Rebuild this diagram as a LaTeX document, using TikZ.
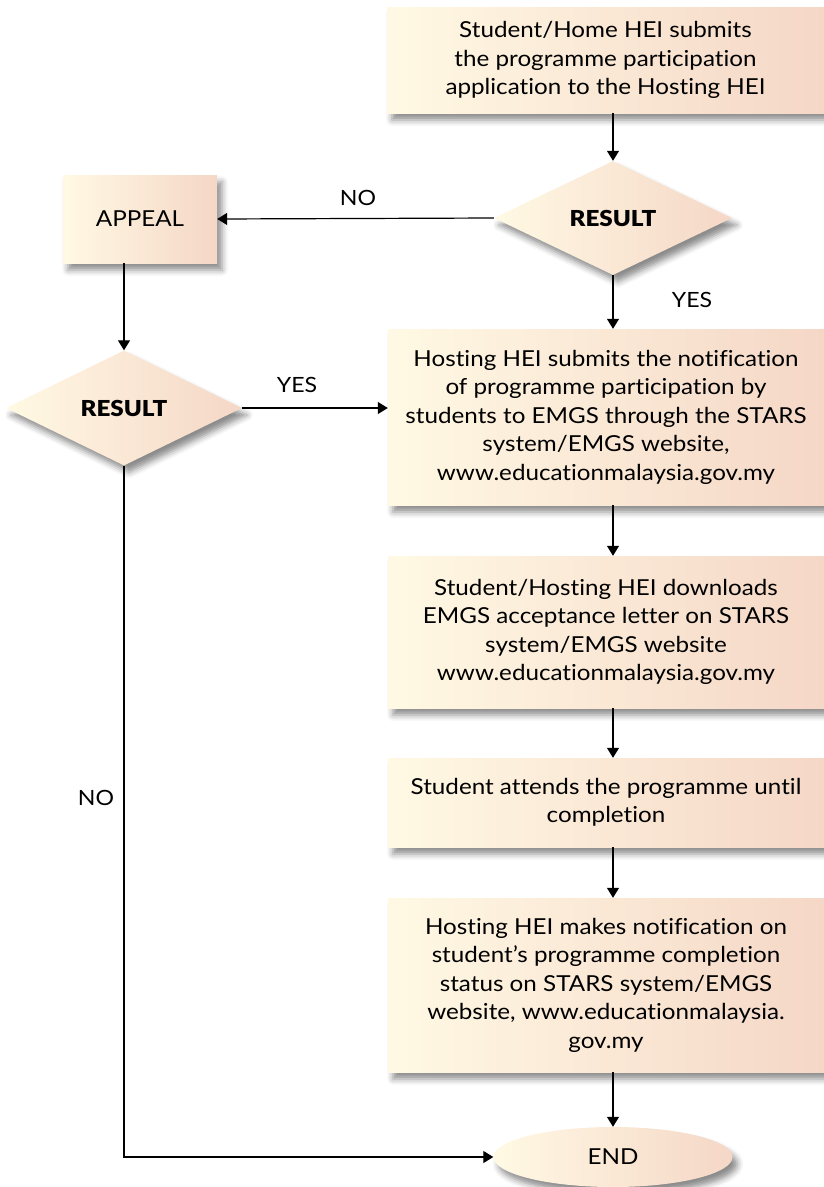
\documentclass[tikz,border=0pt]{standalone}
\usepackage{fontspec}
\setmainfont{Lato}[FakeStretch=1.1,Ligatures=NoCommon]
\newfontfamily\heavyfont{Lato Black}[FakeStretch=1.1]
\usetikzlibrary{arrows.meta,shapes.geometric,shadows.blur}
\definecolor{gl}{RGB}{255,249,228}
\definecolor{gr}{RGB}{245,215,198}
\tikzset{
  shadowed/.style={blur shadow={shadow xshift=5pt,shadow yshift=-7pt,shadow blur radius=6pt,shadow opacity=45}},
  fillbox/.style={shadowed,left color=gl,right color=gr,draw=none,inner sep=0pt,align=center,
    font=\fontsize{22}{28.5}\selectfont},
  stepbox/.style={fillbox,rectangle},
  decision/.style={fillbox,diamond,aspect=2.1,font=\heavyfont\fontsize{22}{26}\selectfont},
  terminal/.style={fillbox,ellipse},
  arr/.style={-{Triangle[width=12pt,length=10pt]},line width=1.2pt},
  lbl/.style={font=\fontsize{21}{24}\selectfont,inner sep=0pt}
}
\begin{document}
\begin{tikzpicture}[x=1pt,y=-1pt]
\useasboundingbox (0,0) rectangle (824,1187);
\node[stepbox,minimum width=437,minimum height=106] (b1) at (605.5,60)
  {Student/Home HEI submits\\the programme participation\\application to the Hosting HEI};
\node[decision,minimum width=238,minimum height=114] (d1) at (613,218) {RESULT};
\node[stepbox,minimum width=154,minimum height=88] (ap) at (140,219) {APPEAL};
\node[decision,minimum width=236,minimum height=115] (d2) at (124,408) {RESULT};
\node[stepbox,minimum width=436,minimum height=176] (b2) at (606,417)
  {Hosting HEI submits the notification\\of programme participation by\\students to EMGS through the STARS\\system/EMGS website,\\www.educationmalaysia.gov.my};
\node[stepbox,minimum width=436,minimum height=152] (b3) at (606,632)
  {Student/Hosting HEI downloads\\EMGS acceptance letter on STARS\\system/EMGS website\\www.educationmalaysia.gov.my};
\node[stepbox,minimum width=436,minimum height=89] (b4) at (606,802.5)
  {Student attends the programme until\\completion};
\node[stepbox,minimum width=436,minimum height=174] (b5) at (606,985)
  {Hosting HEI makes notification on\\student's programme completion\\status on STARS system/EMGS\\website, www.educationmalaysia.\\gov.my};
\node[terminal,minimum width=239,minimum height=60] (end) at (613,1157) {END};

\draw[arr] (b1.south -| d1.north) -- (d1.north);
\draw[arr] (d1.west) -- (ap.east);
\draw[arr] (d1.south) -- (b2.north -| d1.south);
\draw[arr] (ap.south -| d2.north) -- (d2.north);
\draw[arr] (d2.east) -- (b2.west |- d2.east);
\draw[arr] (b2.south -| d1.south) -- (b3.north -| d1.south);
\draw[arr] (b3.south -| d1.south) -- (b4.north -| d1.south);
\draw[arr] (b4.south -| d1.south) -- (b5.north -| d1.south);
\draw[arr] (b5.south -| d1.south) -- (end.north);
\draw[arr] (d2.south) -- (d2.south |- end.west) -- (end.west);

\node[lbl] (lno1) at (358,198) {NO};
\node[lbl] (lyes1) at (692,300) {YES};
\node[lbl] (lyes2) at (297,385) {YES};
\node[lbl] (lno2) at (96,798) {NO};
\end{tikzpicture}
\end{document}
